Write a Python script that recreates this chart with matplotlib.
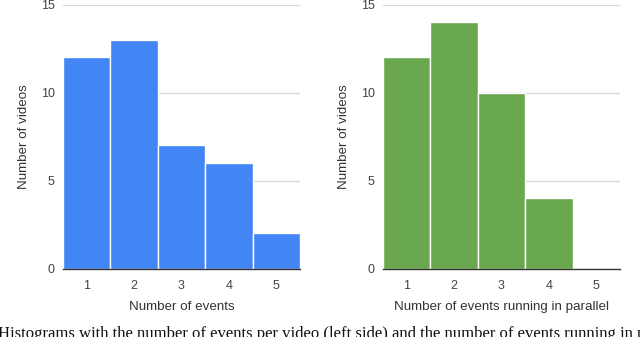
import matplotlib
matplotlib.use("Agg")
import matplotlib.pyplot as plt

categories = [1, 2, 3, 4, 5]
events_per_video = [12, 13, 7, 6, 2]
parallel_events = [12, 14, 10, 4, 0]
yticks = [0, 5, 10, 15]

plt.rcParams['font.family'] = ['Liberation Sans', 'DejaVu Sans']

fig = plt.figure(figsize=(6.4, 3.37), dpi=100)
W, H = 640, 337

def make_ax(x0, x1, values, color, xlabel):
    ax = fig.add_axes([x0 / W, 1 - 268.5 / H, (x1 - x0) / W, (268.5 - 4.5) / H])
    ax.bar(categories, values, width=1.0, color=color, edgecolor='white', linewidth=1.0, zorder=2)
    ax.set_xlim(0.5, 5.5)
    ax.set_ylim(0, 15)
    ax.set_yticks(yticks)
    ax.set_xticks(categories)
    ax.yaxis.grid(True, color='#d9d9d9', linewidth=1.0, zorder=0)
    ax.set_axisbelow(True)
    for s in ['top', 'right', 'left']:
        ax.spines[s].set_visible(False)
    ax.spines['bottom'].set_color('#333333')
    ax.spines['bottom'].set_linewidth(1.0)
    ax.spines['bottom'].set_zorder(3)
    ax.tick_params(axis='both', length=0, labelsize=9, labelcolor='#444444')
    ax.tick_params(axis='x', pad=8)
    ax.tick_params(axis='y', pad=6)
    ax.set_xlabel(xlabel, fontsize=9.6, color='#333333', labelpad=7)
    ax.set_ylabel('Number of videos', fontsize=9.6, color='#333333', labelpad=8)
    return ax

make_ax(63, 300, events_per_video, '#4285f4', 'Number of events')
make_ax(383, 620, parallel_events, '#6aa84f', 'Number of events running in parallel')

fig.text(-0.003, 1 - 326 / H,
         'Histograms with the number of events per video (left side) and the number of events running in parallel (right side).',
         fontsize=12, family=['Liberation Serif', 'DejaVu Serif'], va='top', ha='left', color='#111111')

fig.savefig('out.png', dpi=100)
